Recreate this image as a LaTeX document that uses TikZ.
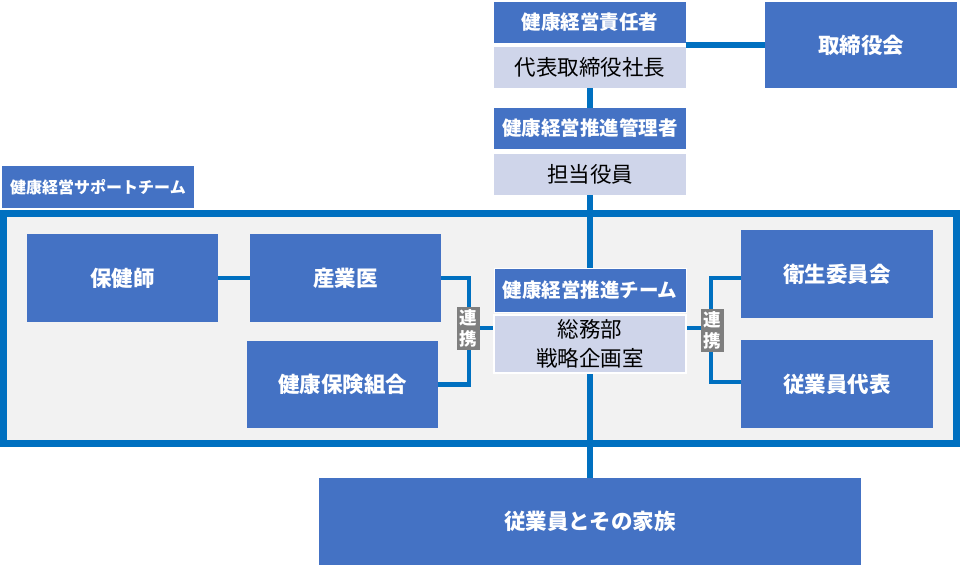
\documentclass[tikz,border=0pt]{standalone}
\usepackage{fontspec}
\newfontfamily\jp{Noto Sans CJK JP}
\definecolor{boxblue}{HTML}{4472C4}
\definecolor{lav}{HTML}{CFD5EA}
\definecolor{lineblue}{HTML}{0070C0}
\definecolor{framegray}{HTML}{F2F2F2}
\definecolor{tagray}{HTML}{7F7F7F}
\tikzset{
  bluebox/.style={fill=boxblue, text=white, inner sep=0pt, align=center,
    font=\jp\bfseries\fontsize{21.5bp}{26bp}\selectfont},
  headbox/.style={bluebox, font=\jp\bfseries\fontsize{19.5bp}{22bp}\selectfont},
  lavbox/.style={fill=lav, text=black, inner sep=0pt, align=center,
    font=\jp\fontsize{21.5bp}{29bp}\selectfont},
  tagbox/.style={fill=tagray, text=white, inner sep=0pt, align=center,
    minimum width=23bp, minimum height=43bp,
    font=\jp\bfseries\fontsize{17.5bp}{21bp}\selectfont},
  conn/.style={draw=lineblue, line width=4.5bp},
  mainconn/.style={draw=lineblue, line width=5.5bp},
  frameline/.style={draw=lineblue, fill=framegray, line width=6.5bp}
}
\begin{document}
\begin{tikzpicture}[x=1bp, y=-1bp]
\useasboundingbox (0,0) rectangle (960,567);
% frame
\path[frameline] (3.3,213.3) rectangle (956.7,443.7);
% nodes
\node[headbox, minimum width=192bp, minimum height=41bp] (h1) at (590,22.5) {健康経営責任者};
\node[lavbox, minimum width=192bp, minimum height=41bp] (s1) at (590,67.5) {代表取締役社長};
\node[bluebox, minimum width=192bp, minimum height=86bp] (board) at (861,45) {取締役会};
\node[headbox, minimum width=192bp, minimum height=41bp] (h2) at (590,128.5) {健康経営推進管理者};
\node[lavbox, minimum width=192bp, minimum height=41bp] (s2) at (590,174.5) {担当役員};
\node[bluebox, font=\jp\bfseries\fontsize{16bp}{18bp}\selectfont, minimum width=192bp, minimum height=42bp] (tlabel) at (98,187) {健康経営サポートチーム};
\node[bluebox, minimum width=191bp, minimum height=88bp] (hokenshi) at (122.5,278) {保健師};
\node[bluebox, minimum width=191bp, minimum height=88bp] (sangyoui) at (345.5,278) {産業医};
\node[bluebox, minimum width=191bp, minimum height=87bp] (kenpo) at (342.5,384.5) {健康保険組合};
\node[headbox, draw=white, line width=1bp, minimum width=192bp, minimum height=43bp] (ch) at (590,290.5) {健康経営推進チーム};
\node[lavbox, draw=white, line width=1.5bp, minimum width=192bp, minimum height=58bp] (cs) at (590,344) {総務部\\戦略企画室};
\node[bluebox, minimum width=192bp, minimum height=88bp] (eisei) at (837,274) {衛生委員会};
\node[bluebox, minimum width=192bp, minimum height=88bp] (jugyoin) at (837,384) {従業員代表};
\node[bluebox, minimum width=542bp, minimum height=87bp] (family) at (590,521.5) {従業員とその家族};
% connectors
\coordinate (lb) at (469,328);
\coordinate (rb) at (711,328);
\draw[mainconn] (board.west) -- (board.west -| h1.east);
\draw[mainconn] (s1.south) -- (h2.north);
\draw[mainconn] (s2.south) -- (ch.north);
\draw[mainconn] (cs.south) -- (family.north);
\draw[conn] (hokenshi.east) -- (sangyoui.west);
\draw[conn] (sangyoui.east) -| (lb) |- (kenpo.east);
\draw[conn] (lb) -- (lb -| cs.west);
\draw[conn] ([yshift=-4bp]eisei.west) -| (rb) |- ([yshift=2bp]jugyoin.west);
\draw[conn] (rb) -- (rb -| cs.east);
% redraw boxes over lines
\node[headbox, draw=white, line width=1bp, minimum width=192bp, minimum height=43bp] at (ch) {健康経営推進チーム};
\node[lavbox, draw=white, line width=1.5bp, minimum width=192bp, minimum height=58bp] at (cs) {総務部\\戦略企画室};
% tags
\node[tagbox] (renL) at (468,328.5) {連\\携};
\node[tagbox] (renR) at (712,330) {連\\携};
\end{tikzpicture}
\end{document}
